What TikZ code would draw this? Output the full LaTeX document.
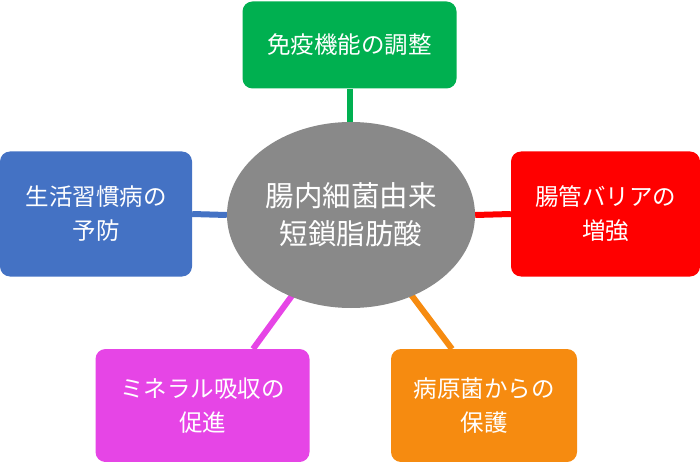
\documentclass[tikz,border=0pt]{standalone}
\usepackage{fontspec}
\setmainfont{Noto Sans CJK JP}
\usetikzlibrary{backgrounds,shapes.geometric}
\definecolor{cgreen}{HTML}{00B050}
\definecolor{cblue}{HTML}{4472C4}
\definecolor{cred}{HTML}{FF0000}
\definecolor{cmag}{HTML}{E645E6}
\definecolor{corange}{HTML}{F68B10}
\definecolor{cgray}{HTML}{898989}
\begin{document}
\begin{tikzpicture}[x=1pt,y=-1pt,
  box/.style={rounded corners=10pt, text=white, align=center, inner sep=0pt,
    font=\fontsize{23.5}{34}\selectfont},
  link/.style={line width=6pt, line cap=butt}]
\useasboundingbox (0,0) rectangle (700,462);
\node[ellipse, fill=cgray, minimum width=248pt, minimum height=186pt, inner sep=0pt,
  text=white, align=center, font=\fontsize{28.5}{38}\selectfont] (ell) at (351,215)
  {腸内細菌由来\\短鎖脂肪酸};
\node[box, fill=cgreen, minimum width=214pt, minimum height=87pt] (g) at (349.5,45) {免疫機能の調整};
\node[box, fill=cblue, minimum width=192pt, minimum height=125pt] (b) at (96,214) {生活習慣病の\\予防};
\node[box, fill=cred, minimum width=189pt, minimum height=125pt] (r) at (605.5,214) {腸管バリアの\\増強};
\node[box, fill=cmag, minimum width=214pt, minimum height=113pt] (m) at (202.5,405.5) {ミネラル吸収の\\促進};
\node[box, fill=corange, minimum width=186pt, minimum height=113pt] (o) at (484,405.5) {病原菌からの\\保護};
\coordinate (mt) at (253,349);
\coordinate (ot) at (452,349);
\begin{scope}[on background layer]
\draw[link, cgreen] (g.south) -- (g.south |- ell.north);
\draw[link, cblue] (b.east) -- (ell.west);
\draw[link, cred] (ell.east) -- (r.west);
\draw[link, cmag] (ell.center) -- (mt);
\draw[link, corange] (ell.center) -- (ot);
\end{scope}
\end{tikzpicture}
\end{document}
